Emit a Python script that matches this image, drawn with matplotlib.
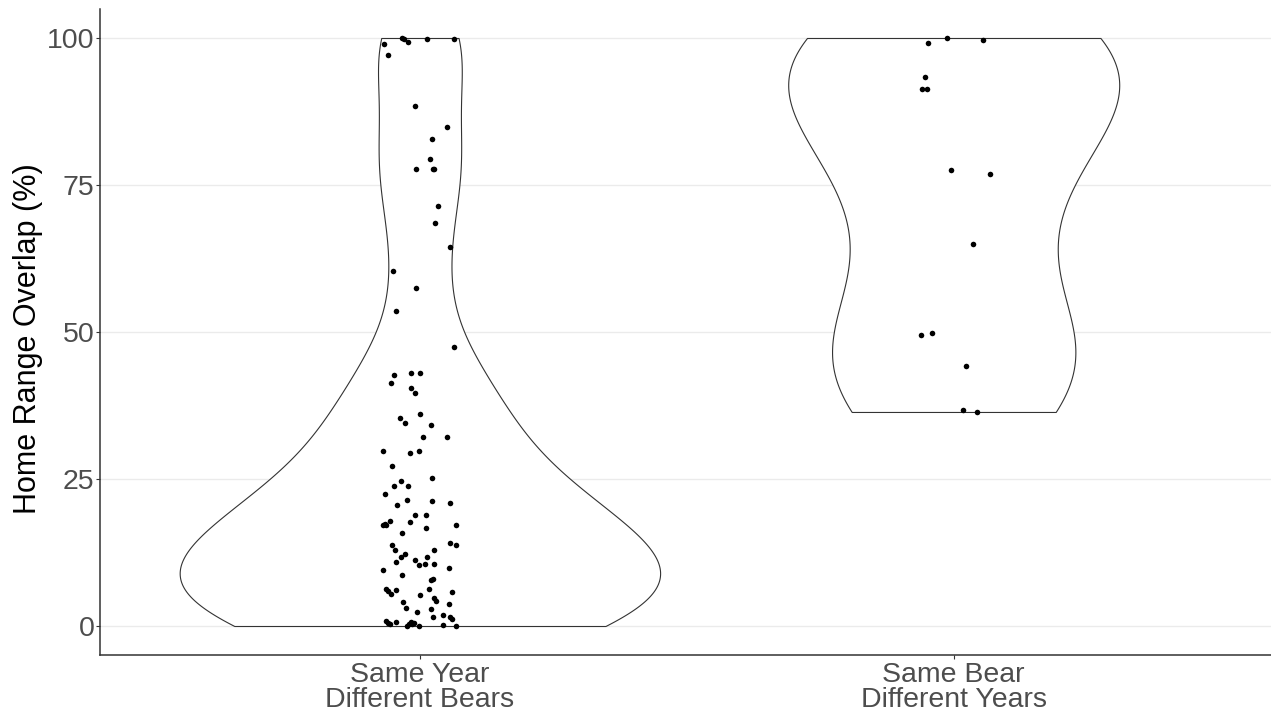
import numpy as np
import matplotlib
matplotlib.use("Agg")
import matplotlib.pyplot as plt
from matplotlib import mlab

# ---------------- data ----------------
categories = ["Same Year\nDifferent Bears", "Same Bear\nDifferent Years"]

same_year_values = [
    99.0, 97.1, 100.0, 99.8, 99.4, 99.9, 99.9, 88.4, 84.9, 82.9, 79.5, 77.8,
    77.7, 77.7, 71.5, 68.6, 64.4, 60.4, 57.4, 53.6, 47.5, 42.7, 43.1, 43.1,
    41.3, 40.4, 39.6, 36.0, 35.4, 34.6, 34.2, 32.1, 32.2, 29.8, 29.5, 29.8,
    27.2, 25.1, 24.6, 23.8, 23.8, 22.5, 21.5, 20.5, 21.3, 20.9, 18.9, 18.9,
    17.7, 17.9, 17.3, 17.2, 17.1, 16.6, 17.2, 15.8, 14.2, 13.8, 13.7, 12.9,
    12.9, 12.3, 11.7, 11.8, 10.9, 11.2, 10.4, 10.5, 10.5, 9.6, 9.8, 8.6,
    8.0, 7.8, 6.3, 6.0, 5.4, 6.2, 5.3, 6.3, 5.7, 4.7, 4.3, 4.1,
    3.1, 3.7, 2.9, 2.3, 1.6, 1.8, 1.6, 1.2, 0.9, 0.5, 0.3, 0.7,
    0.0, 0.4, 0.6, 0.3, 0.5, 0.0, 0.2, 0.0,
]
same_year_jitter = [
    -0.067, -0.060, -0.033, -0.029, -0.023, 0.013, 0.064, -0.009, 0.051, 0.023, 0.019, 0.024,
    0.026, -0.008, 0.034, 0.029, 0.056, -0.051, -0.008, -0.044, 0.063, -0.049, -0.017, 0.000,
    -0.054, -0.016, -0.010, 0.000, -0.038, -0.028, 0.020, 0.006, 0.051, -0.069, -0.018, -0.001,
    -0.053, 0.023, -0.036, -0.048, -0.023, -0.065, -0.025, -0.042, 0.022, 0.057, -0.009, 0.011,
    -0.019, -0.056, -0.066, -0.069, -0.063, 0.011, 0.068, -0.034, 0.056, 0.068, -0.052, -0.047,
    0.027, -0.027, -0.036, 0.013, -0.044, -0.009, -0.002, 0.009, 0.027, -0.069, 0.054, -0.033,
    0.024, 0.021, -0.063, -0.060, -0.054, -0.045, 0.001, 0.017, 0.060, 0.027, 0.031, -0.031,
    -0.026, 0.054, 0.021, -0.006, 0.024, 0.044, 0.057, 0.061, -0.064, -0.060, -0.056, -0.044,
    -0.025, -0.020, -0.017, -0.014, -0.011, -0.002, 0.043, 0.068,
]

same_bear_values = [
    99.1, 100.0, 99.7, 93.4, 91.3, 91.3, 77.5, 76.9, 64.9, 49.5, 49.9, 44.3, 36.7, 36.4,
]
same_bear_jitter = [
    -0.049, -0.012, 0.054, -0.054, -0.060, -0.050, -0.006, 0.068, 0.036, -0.062, -0.041,
    0.023, 0.018, 0.043,
]

y_ticks = [0, 25, 50, 75, 100]
y_label = "Home Range Overlap (%)"

groups = [np.array(same_year_values), np.array(same_bear_values)]
jitters = [np.array(same_year_jitter), np.array(same_bear_jitter)]
positions = [1, 2]

# ---------------- helpers: R-like nrd0 bandwidth, area scaling ----------------
def nrd0(x):
    sd = np.std(x, ddof=1)
    q75, q25 = np.percentile(x, [75, 25])
    lo = min(sd, (q75 - q25) / 1.34)
    return 0.9 * lo * len(x) ** (-0.2)

def bw_factor(kde):
    x = np.asarray(kde.dataset).ravel()
    return nrd0(x) / np.std(x, ddof=1)

max_dens = []
for g in groups:
    kde = mlab.GaussianKDE(g, bw_method=bw_factor)
    ys = np.linspace(g.min(), g.max(), 512)
    max_dens.append(kde.evaluate(ys).max())
max_dens = np.array(max_dens)
widths = 0.9 * max_dens / max_dens.max()

# ---------------- figure ----------------
plt.rcParams["font.family"] = ["Liberation Sans", "DejaVu Sans"]
W, H = 1271, 721
fig = plt.figure(figsize=(W / 100, H / 100), dpi=100)
left_px, right_px, top_px, bot_px = 99.6, 1274.0, 8.6, 655.4
ax = fig.add_axes([left_px / W, 1 - bot_px / H, (right_px - left_px) / W, (bot_px - top_px) / H])

vp = ax.violinplot(groups, positions=positions, widths=widths, showextrema=False,
                   points=512, bw_method=bw_factor)
for body in vp["bodies"]:
    body.set_facecolor("white")
    body.set_edgecolor("#333333")
    body.set_linewidth(0.8)
    body.set_alpha(1)
    body.set_zorder(2)

for pos, g, j in zip(positions, groups, jitters):
    ax.scatter(pos + j, g, s=16, color="black", linewidths=0, zorder=3)

ax.set_xlim(0.4, 2.6)
ax.set_ylim(-5, 105)
ax.set_xticks(positions)
ax.set_xticklabels(categories, fontsize=20.5, color="#4D4D4D", linespacing=0.95)
ax.set_yticks(y_ticks)
ax.set_yticklabels([str(t) for t in y_ticks], fontsize=20.5, color="#4D4D4D")

ax.yaxis.grid(True, color="#EBEBEB", linewidth=1.0)
ax.xaxis.grid(False)
ax.set_axisbelow(True)

for side in ["top", "right"]:
    ax.spines[side].set_visible(False)
for side in ["left", "bottom"]:
    ax.spines[side].set_color("#333333")
    ax.spines[side].set_linewidth(1.1)
ax.tick_params(axis="both", length=3, width=0.8, color="#333333")
ax.tick_params(axis="x", pad=2)
ax.tick_params(axis="y", pad=0.5)

ax.set_ylabel(y_label, fontsize=22, color="black")
ax.yaxis.label.set_va("center")
ax.yaxis.set_label_coords((28 - left_px) / (right_px - left_px), 0.49)

fig.savefig("out.png", dpi=100, facecolor="white")
